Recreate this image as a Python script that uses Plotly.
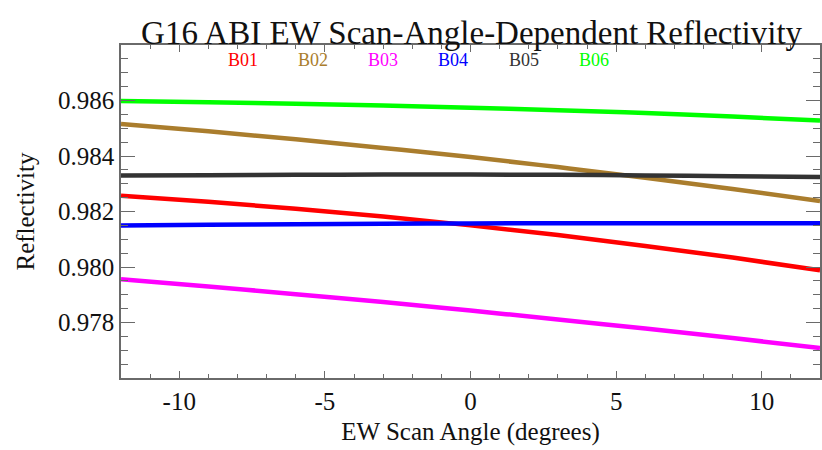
import plotly.graph_objects as go

# EW scan angle samples (degrees)
scan_angle = [-12, -9, -6, -3, 0, 3, 6, 9, 12]

# Reflectivity per ABI band
b01 = [0.98257, 0.98235, 0.98210, 0.98182, 0.98150, 0.98115, 0.98076, 0.98034, 0.97988]
b02 = [0.98515, 0.98489, 0.98460, 0.98429, 0.98396, 0.98360, 0.98322, 0.98281, 0.98238]
b03 = [0.97956, 0.97930, 0.97902, 0.97874, 0.97843, 0.97811, 0.97778, 0.97744, 0.97708]
b04 = [0.98150, 0.98152, 0.98154, 0.98156, 0.98157, 0.98158, 0.98158, 0.98158, 0.98158]
b05 = [0.98330, 0.98331, 0.98332, 0.98333, 0.98333, 0.98332, 0.98330, 0.98327, 0.98324]
b06 = [0.98598, 0.98594, 0.98588, 0.98582, 0.98574, 0.98565, 0.98555, 0.98542, 0.98528]

band_names = ["B01", "B02", "B03", "B04", "B05", "B06"]
band_values = [b01, b02, b03, b04, b05, b06]
band_colors = ["#ff0000", "#aa7d2d", "#ff00ff", "#0000ff", "#333333", "#00ff00"]

x_ticks = [-10, -5, 0, 5, 10]
y_ticks = [0.978, 0.980, 0.982, 0.984, 0.986]

serif = "Liberation Serif, Times New Roman, serif"
axis_color = "#6a6a6a"

fig = go.Figure()
for name, vals, col in zip(band_names, band_values, band_colors):
    fig.add_trace(go.Scatter(
        x=scan_angle, y=vals, mode="lines", name=name,
        line=dict(color=col, width=4.5, shape="spline"),
        showlegend=False,
    ))

# Band labels in a row along the top of the plot
label_x = [0.174, 0.275, 0.375, 0.475, 0.576, 0.677]
for name, col, lx in zip(band_names, band_colors, label_x):
    fig.add_annotation(
        x=lx, y=0.955, xref="paper", yref="paper", text=name, showarrow=False,
        font=dict(family=serif, size=18, color=col), xanchor="center", yanchor="middle",
    )

fig.update_layout(
    width=822, height=450,
    margin=dict(l=121, r=0, t=45, b=72),
    paper_bgcolor="white", plot_bgcolor="white",
    title=dict(
        text="G16 ABI EW Scan-Angle-Dependent Reflectivity",
        font=dict(family=serif, size=33, color="#111111"),
        x=0.5737, xanchor="center", xref="container",
        y=1 - 32 / 450, yanchor="middle", yref="container",
    ),
    font=dict(family=serif, color="#111111"),
)

fig.update_xaxes(
    range=[-12, 12],
    tickmode="array", tickvals=x_ticks, ticktext=[str(v) for v in x_ticks],
    ticks="inside", ticklen=7, tickwidth=1.2, tickcolor=axis_color,
    minor=dict(ticks="inside", ticklen=4, tickwidth=1.2, tickcolor=axis_color,
               tickmode="linear", tick0=0, dtick=1),
    showline=True, linecolor=axis_color, linewidth=1.5, mirror="ticks",
    showgrid=False, zeroline=False,
    tickfont=dict(family=serif, size=25, color="#111111"),
    title=dict(text="EW Scan Angle (degrees)", font=dict(family=serif, size=25, color="#111111"),
               standoff=9),
)

fig.update_yaxes(
    range=[0.976, 0.988],
    tickmode="array", tickvals=y_ticks, ticktext=[f"{v:.3f}" for v in y_ticks],
    ticks="inside", ticklen=14, tickwidth=1.2, tickcolor=axis_color,
    minor=dict(ticks="inside", ticklen=7, tickwidth=1.2, tickcolor=axis_color,
               tickmode="linear", tick0=0.976, dtick=0.0005),
    showline=True, linecolor=axis_color, linewidth=1.5, mirror="ticks",
    showgrid=False, zeroline=False,
    tickfont=dict(family=serif, size=25, color="#111111"),
    title=dict(text="Reflectivity", font=dict(family=serif, size=25, color="#111111"),
               standoff=16),
)

fig.write_html("out.html")
